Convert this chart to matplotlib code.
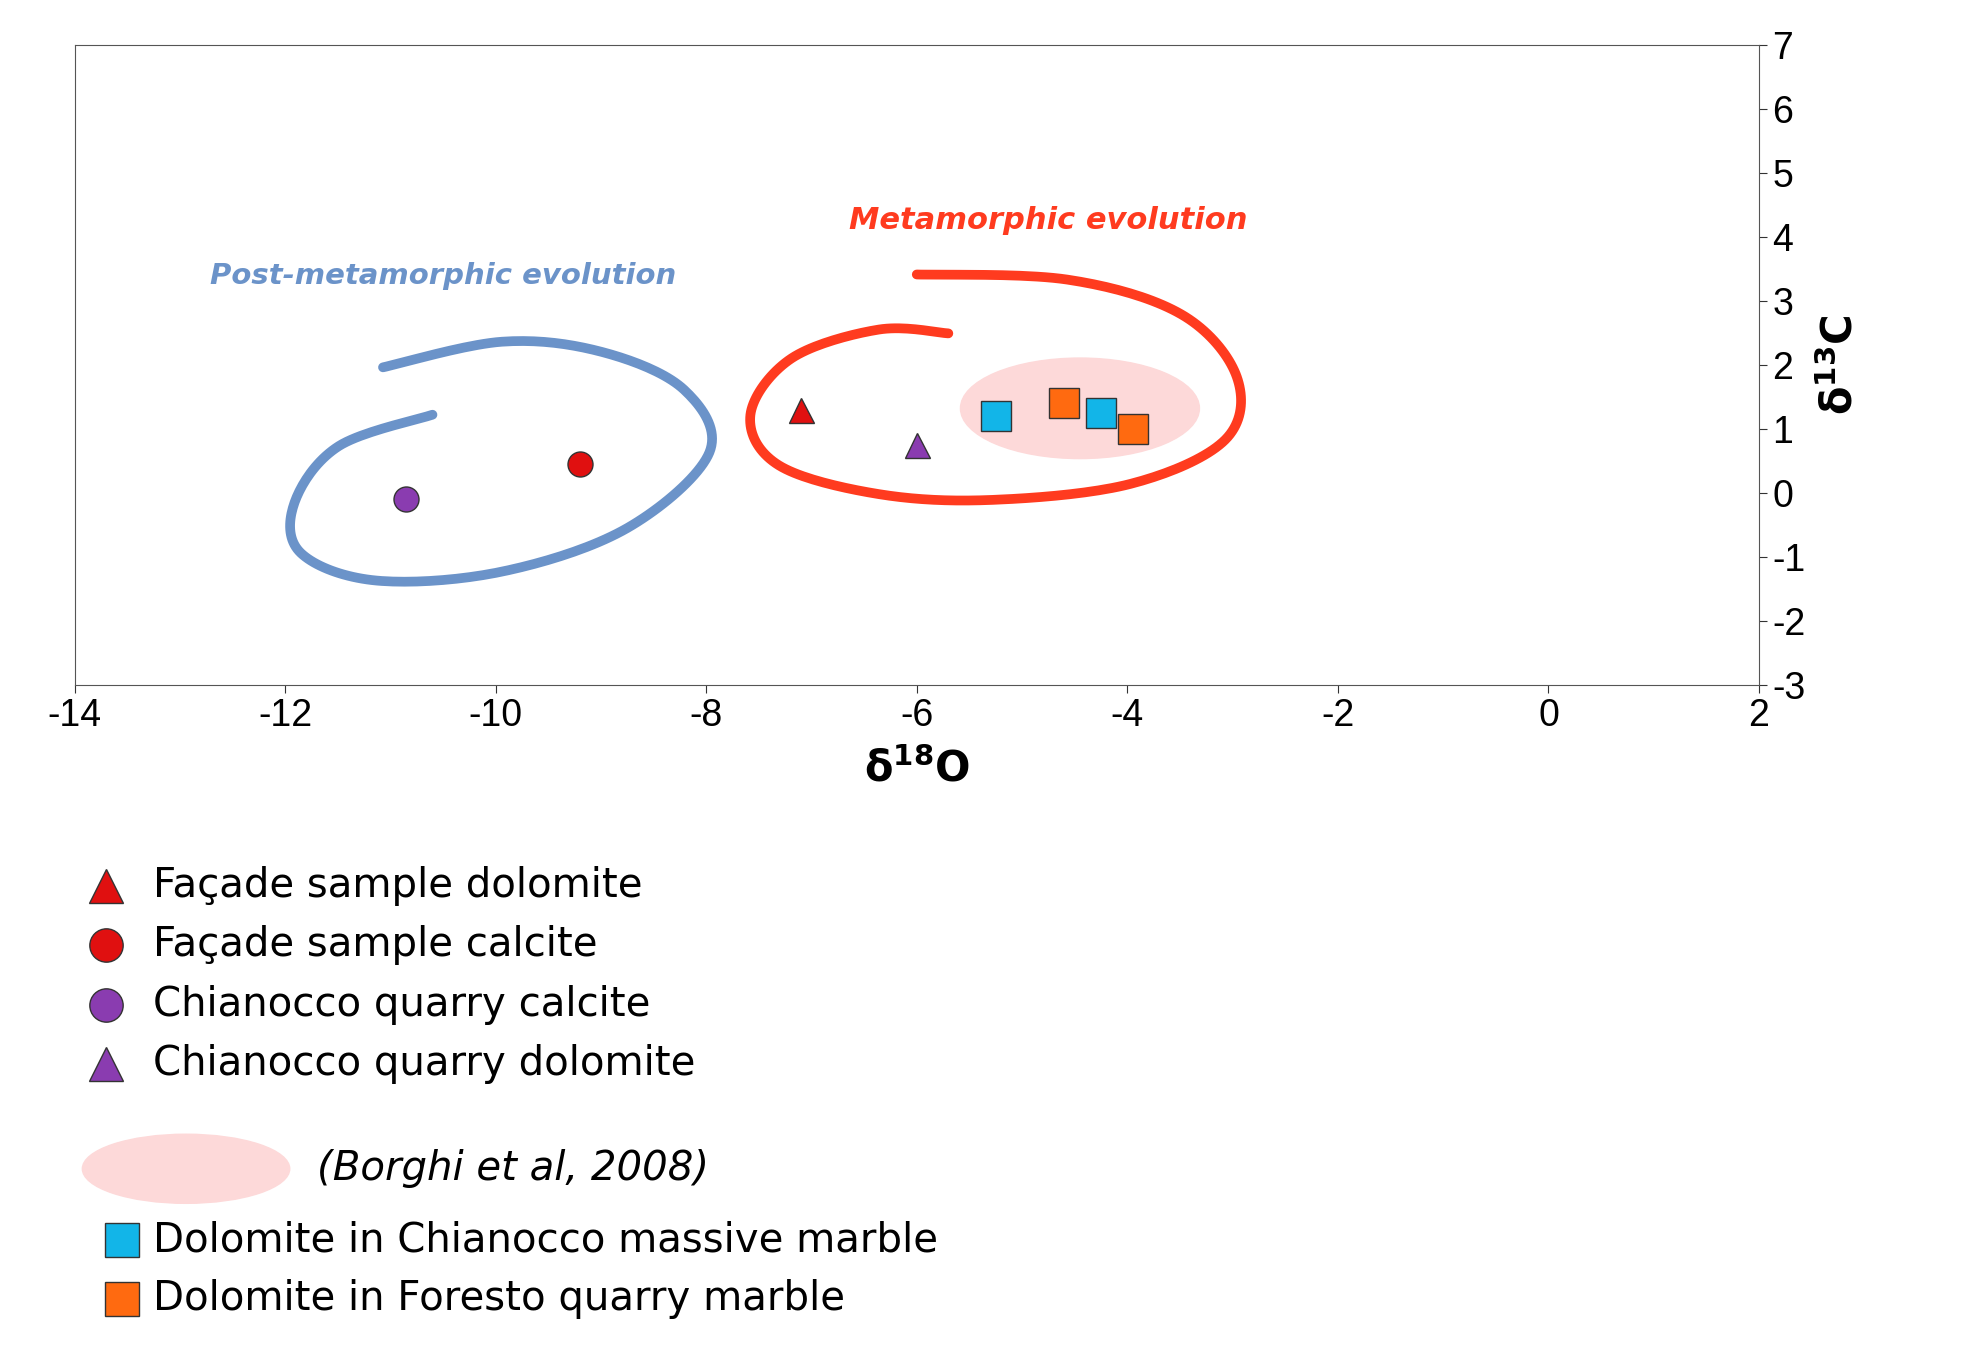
import numpy as np
import matplotlib
matplotlib.use("Agg")
import matplotlib.pyplot as plt
from matplotlib.patches import Ellipse

plt.rcParams['axes.unicode_minus'] = False

# sample points (delta18O, delta13C)
facade_dol = ([-7.1], [1.3])
facade_cal = ([-9.2], [0.45])
chian_cal = ([-10.85], [-0.1])
chian_dol = ([-6.0], [0.75])
chian_massive = ([-5.25, -4.25], [1.2, 1.25])
foresto = ([-4.6, -3.95], [1.4, 1.0])
borghi = (-4.45, 1.32, 2.27, 1.57)  # centre x, centre y, width, height

# hand-drawn spiral guides
blue_x = [-10.6, -11.49, -11.91, -11.85, -11.13, -9.94, -8.75, -7.97, -8.21, -8.99, -9.94, -11.07]
blue_y = [1.22, 0.73, -0.15, -0.94, -1.37, -1.23, -0.55, 0.63, 1.61, 2.2, 2.36, 1.96]
red_x = [-5.7, -6.36, -7.19, -7.58, -7.31, -6.36, -5.28, -3.97, -3.07, -2.96, -3.49, -4.57, -6.0]
red_y = [2.49, 2.55, 2.1, 1.22, 0.43, -0.02, -0.11, 0.14, 0.83, 1.81, 2.79, 3.33, 3.41]


def smooth(xs, ys, n=20):
    p = np.column_stack([xs, ys])
    p = np.vstack([p[0], p, p[-1]])
    out = []
    t = np.linspace(0, 1, n, endpoint=False)[:, None]
    for i in range(1, len(p) - 2):
        p0, p1, p2, p3 = p[i - 1], p[i], p[i + 1], p[i + 2]
        out.append(0.5 * ((2 * p1) + (-p0 + p2) * t + (2 * p0 - 5 * p1 + 4 * p2 - p3) * t ** 2
                          + (-p0 + 3 * p1 - 3 * p2 + p3) * t ** 3))
    out.append(p[-2][None])
    out = np.vstack(out)
    return out[:, 0], out[:, 1]


BLUE = '#6b93c9'
RED = '#ff3b1f'
CYAN = '#12b5e8'
ORANGE = '#ff6a10'
PINK = '#fdd9d9'

fig = plt.figure(figsize=(19.61, 13.51), dpi=100)
ax = fig.add_axes([0.038, 0.493, 0.859, 0.474])
ax.set_xlim(-14, 2)
ax.set_ylim(-3, 7)

ax.add_patch(Ellipse(borghi[:2], borghi[2], borghi[3], color=PINK, zorder=1))
bx, by = smooth(blue_x, blue_y)
ax.plot(bx, by, color=BLUE, lw=7, solid_capstyle='round', zorder=2)
rx, ry = smooth(red_x, red_y)
ax.plot(rx, ry, color=RED, lw=7, solid_capstyle='round', zorder=2)

kw = dict(ms=18, mec='#333333', mew=1, ls='none', zorder=3)
ax.plot(*facade_dol, marker='^', mfc='#e01010', **kw)
ax.plot(*facade_cal, marker='o', mfc='#e01010', **kw)
ax.plot(*chian_cal, marker='o', mfc='#8a3cb0', **kw)
ax.plot(*chian_dol, marker='^', mfc='#8a3cb0', **kw)
ax.plot(*chian_massive, marker='s', mfc=CYAN, ms=22, mec='#333333', mew=1, ls='none', zorder=3)
ax.plot(*foresto, marker='s', mfc=ORANGE, ms=22, mec='#333333', mew=1, ls='none', zorder=3)

ax.text(-4.75, 4.26, 'Metamorphic evolution', color=RED, fontsize=22, fontstyle='italic',
        fontweight='bold', ha='center', va='center', family='DejaVu Sans')
ax.text(-10.5, 3.39, 'Post-metamorphic evolution', color=BLUE, fontsize=21, fontstyle='italic',
        fontweight='bold', ha='center', va='center', family='DejaVu Sans')

ax.set_xticks(range(-14, 3, 2))
ax.set_yticks(range(-3, 8))
ax.yaxis.tick_right()
ax.tick_params(labelsize=27, length=6, direction='out', colors='#333333', labelcolor='black')
for lab in ax.get_xticklabels() + ax.get_yticklabels():
    lab.set_family('Liberation Sans')
for s in ax.spines.values():
    s.set_color('#555555')
ax.set_xlabel(r'$\mathbf{\delta^{18}O}$', fontsize=30, labelpad=10)
ax.yaxis.set_label_position('right')
ax.set_ylabel(r'$\mathbf{\delta^{13}C}$', fontsize=30, labelpad=10)

# legend drawn in display-pixel space of the reference
lg = fig.add_axes([0, 0, 1, 1], zorder=-1)
lg.set_xlim(0, 1560)
lg.set_ylim(1075, 0)
lg.axis('off')
items = [
    (705, '^', '#e01010', 'Façade sample dolomite'),
    (752, 'o', '#e01010', 'Façade sample calcite'),
    (800, 'o', '#8a3cb0', 'Chianocco quarry calcite'),
    (847, '^', '#8a3cb0', 'Chianocco quarry dolomite'),
]
for y, m, c, t in items:
    lg.plot([84], [y], marker=m, mfc=c, mec='#333333', ms=24, mew=1)
    lg.text(122, y, t, fontsize=29, va='center', family='DejaVu Sans')
lg.add_patch(Ellipse((148, 930), 165, 55, color=PINK))
lg.text(252, 930, '(Borghi et al, 2008)', fontsize=29, va='center', fontstyle='italic', family='DejaVu Sans')
for y, c, t in [(987, CYAN, 'Dolomite in Chianocco massive marble'),
                (1034, ORANGE, 'Dolomite in Foresto quarry marble')]:
    lg.plot([97], [y], marker='s', mfc=c, mec='#333333', ms=24, mew=1)
    lg.text(122, y, t, fontsize=29, va='center', family='DejaVu Sans')

fig.savefig('out.png', dpi=100)
